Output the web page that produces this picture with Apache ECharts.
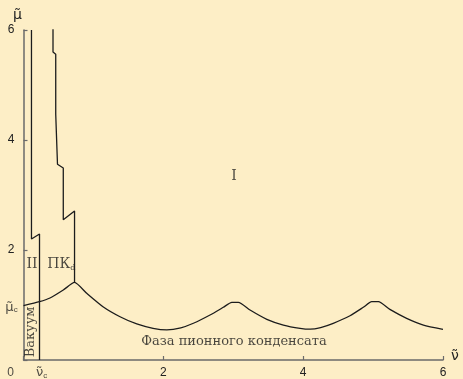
<!DOCTYPE html>
<html><head><meta charset="utf-8">
<script src="https://cdn.jsdelivr.net/npm/echarts@6/dist/echarts.min.js"></script>
<style>html,body{margin:0;padding:0;background:#FDEEC6;}#c{width:463px;height:379px;}</style>
</head><body><div id="c"></div>
<script>
// Tick labels
const xTicks = [2, 4, 6];
const yTicks = [2, 4, 6];
// Lower boundary: pion condensate phase
const curveNu = [0, 0.229, 0.379, 0.569, 0.73, 0.904, 1.137, 1.381, 1.62, 1.853, 2.05, 2.25, 2.43, 2.668, 2.858, 2.979, 3.073, 3.24, 3.48, 3.717, 3.956, 4.1, 4.25, 4.43, 4.67, 4.86, 4.98, 5.076, 5.24, 5.48, 5.72, 6.0];
const curveMu = [0.99, 1.06, 1.127, 1.273, 1.41, 1.213, 0.969, 0.787, 0.655, 0.576, 0.548, 0.585, 0.668, 0.818, 0.958, 1.049, 1.049, 0.909, 0.74, 0.636, 0.576, 0.56, 0.59, 0.667, 0.805, 0.958, 1.06, 1.06, 0.92, 0.758, 0.636, 0.558];
// Vacuum / phase II boundary
const leftNu = [0.114, 0.114, 0.229, 0.229];
const leftMu = [6.0, 2.2, 2.29, 0];
// PKd boundary
const pkNu = [0.422, 0.422, 0.461, 0.461, 0.486, 0.486, 0.569, 0.569, 0.73, 0.73];
const pkMu = [6.02, 5.6, 5.56, 4.47, 4.49, 3.56, 3.49, 2.55, 2.71, 1.41];
// Region labels
const regionText = ['II', 'ПКd', 'I', 'Фаза пионного конденсата', 'Вакуум'];
const regionNu = [0.122, 0.54, 3.01, 3.01, 0.107];
const regionMu = [1.73, 1.73, 3.33, 0.33, 0.51];
const nuC = 0.229, muC = 0.99;

const zip = (a, b) => a.map((v, i) => [v, b[i]]);
const lineColor = '#1c1c1c';
const serif = '"DejaVu Serif", "Liberation Serif", serif';
const sans = '"Liberation Sans", Arial, sans-serif';
const tildeFont = '"DejaVu Sans", sans-serif';

const chart = echarts.init(document.getElementById('c'));
const regionData = regionText.map((t, i) => {
  const item = { value: [regionNu[i], regionMu[i]], label: { show: true, position: 'inside', formatter: t } };
  if (t === 'ПКd') item.label.formatter = '{a|ПК}{s|d}';
  if (t === 'II' || t === 'I') item.label.fontSize = 14;
  if (t === 'Вакуум') item.label.rotate = 90;
  return item;
});
chart.setOption({
  backgroundColor: '#FDEEC6',
  animation: false,
  grid: { left: 23.5, right: 20, top: 30, bottom: 19, outerBoundsMode: 'none' },
  xAxis: {
    type: 'value', min: 0, max: 6, interval: 2,
    axisLine: { show: true, lineStyle: { color: '#6a6a6a', width: 1.5 } },
    axisTick: { show: true, inside: true, length: 4, lineStyle: { color: '#6a6a6a', width: 1.2 } },
    splitLine: { show: false },
    axisLabel: { color: '#222', fontFamily: sans, fontSize: 12, margin: 7,
      formatter: v => (xTicks.includes(v) ? String(v) : '') },
    name: 'ν̃', nameLocation: 'end', nameGap: 8,
    nameTextStyle: { color: '#222', fontFamily: tildeFont, fontSize: 14, verticalAlign: 'bottom', padding: [0, 0, -3, 0] }
  },
  yAxis: {
    type: 'value', min: 0, max: 6, interval: 2,
    axisLine: { show: true, lineStyle: { color: '#6a6a6a', width: 1.5 } },
    axisTick: { show: true, inside: true, length: 4, lineStyle: { color: '#6a6a6a', width: 1.2 } },
    splitLine: { show: false },
    axisLabel: { color: '#222', fontFamily: sans, fontSize: 12, margin: 9,
      formatter: v => (yTicks.includes(v) ? String(v) : '') },
    name: 'μ̃', nameLocation: 'end', nameGap: 8,
    nameTextStyle: { color: '#222', fontFamily: tildeFont, fontSize: 14, align: 'center', padding: [0, 0, 0, -12] }
  },
  series: [
    { type: 'line', data: zip(curveNu, curveMu), showSymbol: false, smooth: 0.2,
      lineStyle: { color: lineColor, width: 1.3 }, z: 3 },
    { type: 'line', data: zip(leftNu, leftMu), showSymbol: false,
      lineStyle: { color: lineColor, width: 1.3 }, z: 3 },
    { type: 'line', data: zip(pkNu, pkMu), showSymbol: false,
      lineStyle: { color: lineColor, width: 1.3 }, z: 3 },
    { type: 'scatter', symbolSize: 0, silent: true, z: 4,
      label: { color: '#1a1a1a', fontFamily: serif, fontSize: 13,
        rich: { a: { fontFamily: serif, fontSize: 14, color: '#1a1a1a' },
                s: { fontFamily: serif, fontSize: 8, color: '#1a1a1a', padding: [7, 0, 0, 0] } } },
      data: regionData },
    { type: 'scatter', symbolSize: 0, silent: true, z: 4,
      label: { show: true, color: '#222', fontFamily: sans, fontSize: 12,
        rich: { m: { fontFamily: tildeFont, fontSize: 13, color: '#222' },
                c: { fontFamily: sans, fontSize: 8, color: '#222', padding: [5, 0, 0, 0] } } },
      data: [
        { value: [0, 0], label: { position: 'inside', offset: [-13, 13], formatter: '0' } },
        { value: [nuC, 0], label: { position: 'inside', offset: [2, 13], formatter: '{m|ν̃}{c|c}' } },
        { value: [0, muC], label: { position: 'inside', offset: [-12, 2], formatter: '{m|μ̃}{c|c}' } }
      ] }
  ]
});
</script></body></html>
